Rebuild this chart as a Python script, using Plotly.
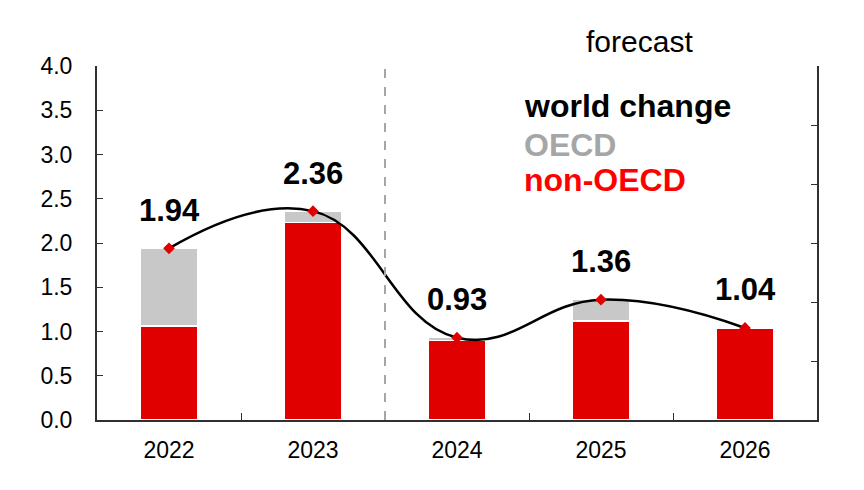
import plotly.graph_objects as go

years = ["2022", "2023", "2024", "2025", "2026"]
non_oecd = [1.06, 2.23, 0.90, 1.12, 1.04]
oecd = [0.88, 0.13, 0.03, 0.24, 0.00]
world = [1.94, 2.36, 0.93, 1.36, 1.04]
world_labels = ["1.94", "2.36", "0.93", "1.36", "1.04"]

RED = "#E00000"
GREY = "#C8C8C8"
FONT = "Liberation Sans, Arial, sans-serif"

fig = go.Figure()
fig.add_trace(go.Bar(x=years, y=non_oecd, marker=dict(color=RED, line=dict(color="white", width=1.5)),
                     width=0.4, showlegend=False))
fig.add_trace(go.Bar(x=years, y=oecd, marker=dict(color=GREY, line=dict(color="white", width=1.5)),
                     width=0.4, showlegend=False))
fig.add_trace(go.Scatter(x=years, y=world, mode="lines", line=dict(color="black", width=2.5, shape="spline", smoothing=1.25),
                         showlegend=False, hoverinfo="skip"))
fig.add_trace(go.Scatter(x=years, y=world, mode="markers", marker=dict(color=RED, symbol="diamond", size=9),
                         showlegend=False))
# right axis frame with its own tick spacing
fig.add_trace(go.Scatter(x=[years[0]], y=[None], yaxis="y2", showlegend=False, hoverinfo="skip"))

for i, (v, t) in enumerate(zip(world, world_labels)):
    fig.add_annotation(x=i, y=v, xref="x", yref="y", text="<b>%s</b>" % t, showarrow=False, yshift=38,
                       xanchor="center", yanchor="middle", font=dict(family=FONT, size=31, color="black"))

# forecast divider
fig.add_shape(type="line", x0=1.5, x1=1.5, y0=0, y1=4, xref="x", yref="y",
              line=dict(color="#A6A6A6", width=2, dash="dash"))

fig.add_annotation(x=0.754, y=1.068, xref="paper", yref="paper", xanchor="center", yanchor="middle",
                   text="forecast", showarrow=False, font=dict(family=FONT, size=30, color="black"))
fig.add_annotation(x=0.590, y=0.887, xref="paper", yref="paper", xanchor="left", yanchor="middle",
                   text="<b>world change</b>", showarrow=False, font=dict(family=FONT, size=32, color="black"))
fig.add_annotation(x=0.590, y=0.777, xref="paper", yref="paper", xanchor="left", yanchor="middle",
                   text="<b>OECD</b>", showarrow=False, font=dict(family=FONT, size=32, color="#A6A6A6"))
fig.add_annotation(x=0.590, y=0.678, xref="paper", yref="paper", xanchor="left", yanchor="middle",
                   text="<b>non-OECD</b>", showarrow=False, font=dict(family=FONT, size=32, color="#FF0000"))

fig.update_layout(
    barmode="stack",
    width=864, height=490,
    margin=dict(l=89, r=55, t=58, b=78),
    plot_bgcolor="white", paper_bgcolor="white",
    font=dict(family=FONT, size=23, color="black"),
    xaxis=dict(type="category", range=[-0.5, 4.5], showline=True, linecolor="#303030", linewidth=2,
               ticks="inside", ticklen=7, tickcolor="#303030", tickson="boundaries", showgrid=False,
               tickfont=dict(size=23), zeroline=False, ticklabelstandoff=8),
    yaxis=dict(range=[0, 4], dtick=0.5, tickformat=".1f", showline=True, linecolor="#303030", linewidth=2,
               ticks="inside", ticklen=6, tickcolor="#303030", showgrid=False, zeroline=False,
               tickfont=dict(size=23), ticklabelstandoff=18),
    yaxis2=dict(range=[0, 6], dtick=1, overlaying="y", side="right", showline=True, linecolor="#303030",
                linewidth=2, ticks="inside", ticklen=6, tickcolor="#303030", showticklabels=False,
                showgrid=False, zeroline=False),
)

fig.write_html("out.html")
